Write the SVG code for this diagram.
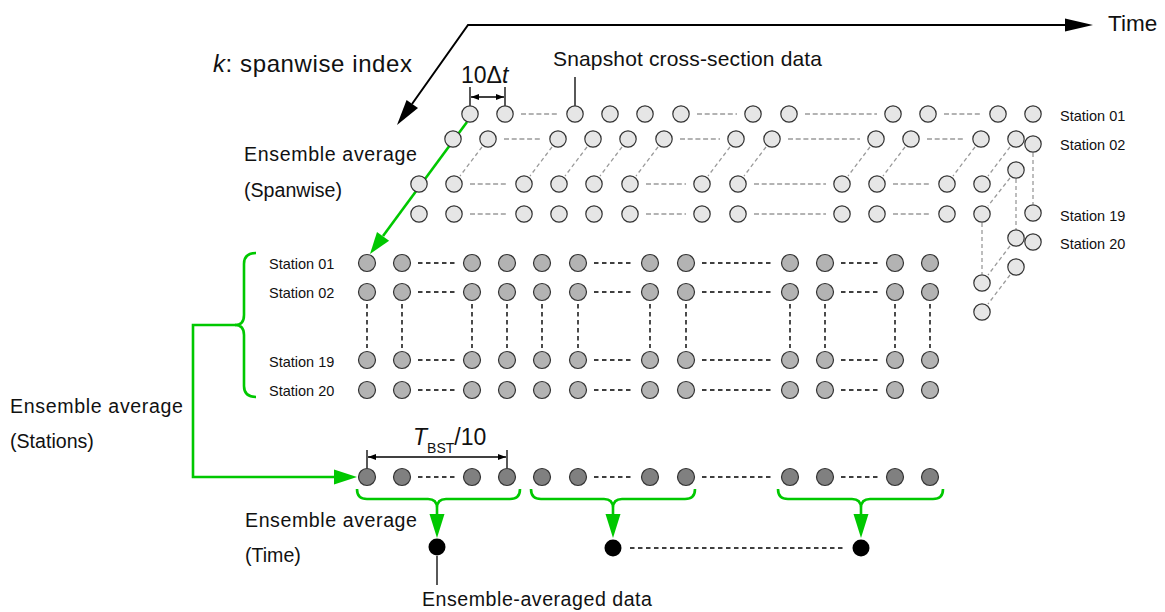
<svg xmlns="http://www.w3.org/2000/svg" width="1165" height="612" viewBox="0 0 1165 612">
<style>
text{font-family:"Liberation Sans",Arial,Helvetica,sans-serif;fill:#111}
.lc{fill:#e6e6e6;stroke:#333;stroke-width:1.2}
.gc{fill:#b3b3b3;stroke:#333;stroke-width:1.2}
.dc{fill:#808080;stroke:#333;stroke-width:1.2}
.bc{fill:#000}
.gd{stroke:#9a9a9a;stroke-width:1.3;stroke-dasharray:5 2.7;fill:none}
.gdd{stroke:#9a9a9a;stroke-width:1.3;stroke-dasharray:4 3;fill:none}
.bd{stroke:#000;stroke-width:1.4;stroke-dasharray:4.5 3.5;fill:none}
.grn{stroke:#00c800;stroke-width:2.6;fill:none}
.gh{fill:#00c800}
.ln{stroke:#000;stroke-width:1.3;fill:none}
.ax{stroke:#000;stroke-width:2;fill:none}
.st{font-size:14.5px}
.lb{font-size:19.6px}
</style>
<defs>
<marker id="sa" markerUnits="userSpaceOnUse" markerWidth="8" markerHeight="6" refX="8" refY="3" orient="auto-start-reverse"><path d="M0,0 L8,3 L0,6 z" fill="#000"/></marker>
</defs>

<g id="connectors">
  <polyline class="ax" points="412,104 468,25 1066,25"/>
  <polygon points="1065,18.5 1093,25 1065,31.5" fill="#000"/>
  <polygon points="397,125 418,108.1 406.6,99.9" fill="#000"/>
  <g class="gd">
    <path d="M521 114H559M697 114H737M805 114H877M944 114H982"/>
    <path d="M504 139H542M680 139H720M788 139H860M927 139H965"/>
    <path d="M470 184H508M646 184H686M754 184H826M893 184H931"/>
    <path d="M470 214H508M646 214H686M754 214H826M893 214H931"/>
  </g>
  <g class="gdd">
    <path d="M482 147L460 176M552 147L530 176M587 147L565 176M622 147L600 176M658 147L636 176M730 147L708 176M766 147L744 176M870 147L848 176M905 147L883 176M975 147L953 176M1010 147L988 176"/>
    <path d="M1010 178L988 206M1010 246L988 275M1010 275L988 304"/>
    <path d="M1033 153V204M1016 179V229M982 223V274"/>
  </g>
  <g class="bd">
    <path d="M418 263H456M594 263H634M702 263H774M841 263H879"/>
    <path d="M418 292H456M594 292H634M702 292H774M841 292H879"/>
    <path d="M418 360H456M594 360H634M702 360H774M841 360H879"/>
    <path d="M418 390H456M594 390H634M702 390H774M841 390H879"/>
    <path d="M367 304V348M402 304V348M472 304V348M507 304V348M542 304V348M578 304V348M650 304V348M686 304V348M790 304V348M825 304V348M895 304V348M930 304V348"/>
    <path d="M418 477H456M594 477H634M702 477H774M841 477H879"/>
    <path d="M630 548H845"/>
  </g>
  <path class="grn" d="M467 122L383 236"/>
  <polygon class="gh" points="370,254 389.1,240.7 377,231.9"/>
  <path class="grn" d="M256 253Q244 253 244 264L244 315Q244 325 235 325Q244 325 244 335L244 386Q244 397 256 397"/>
  <path class="grn" d="M236 325H193V477H336"/>
  <polygon class="gh" points="357,477 334,469.5 334,484.5"/>
  <path class="grn" d="M357 489Q357 499 367 499L428 499Q437 499 437 508Q437 499 446 499L510 499Q520 499 520 489M437 505V516"/>
  <polygon class="gh" points="437,538 429.5,514 444.5,514"/>
  <path class="grn" d="M531 489Q531 499 541 499L604 499Q613 499 613 508Q613 499 622 499L685 499Q695 499 695 489M613 505V516"/>
  <polygon class="gh" points="613,538 605.5,514 620.5,514"/>
  <path class="grn" d="M778 489Q778 499 788 499L852 499Q861 499 861 508Q861 499 870 499L933 499Q943 499 943 489M861 505V516"/>
  <polygon class="gh" points="861,538 853.5,514 868.5,514"/>
  <path class="ln" d="M470 87V106M505 87V106M575 77V106M367 450V468M507 450V468M437 556V585"/>
  <path class="ln" d="M471 97H504" marker-start="url(#sa)" marker-end="url(#sa)"/>
  <path class="ln" d="M368 457H506" marker-start="url(#sa)" marker-end="url(#sa)"/>
</g>

<g id="snapshot-k1">
  <circle class="lc" cx="470" cy="114" r="8.2"/><circle class="lc" cx="505" cy="114" r="8.2"/><circle class="lc" cx="575" cy="114" r="8.2"/><circle class="lc" cx="610" cy="114" r="8.2"/><circle class="lc" cx="645" cy="114" r="8.2"/><circle class="lc" cx="681" cy="114" r="8.2"/><circle class="lc" cx="753" cy="114" r="8.2"/><circle class="lc" cx="789" cy="114" r="8.2"/><circle class="lc" cx="893" cy="114" r="8.2"/><circle class="lc" cx="928" cy="114" r="8.2"/><circle class="lc" cx="998" cy="114" r="8.2"/><circle class="lc" cx="1033" cy="114" r="8.2"/>
</g>
<g id="snapshot-k2">
  <circle class="lc" cx="453" cy="139" r="8.2"/><circle class="lc" cx="488" cy="139" r="8.2"/><circle class="lc" cx="558" cy="139" r="8.2"/><circle class="lc" cx="593" cy="139" r="8.2"/><circle class="lc" cx="628" cy="139" r="8.2"/><circle class="lc" cx="664" cy="139" r="8.2"/><circle class="lc" cx="736" cy="139" r="8.2"/><circle class="lc" cx="772" cy="139" r="8.2"/><circle class="lc" cx="876" cy="139" r="8.2"/><circle class="lc" cx="911" cy="139" r="8.2"/><circle class="lc" cx="981" cy="139" r="8.2"/><circle class="lc" cx="1016" cy="139" r="8.2"/>
</g>
<g id="snapshot-kN-st01">
  <circle class="lc" cx="419" cy="184" r="8.2"/><circle class="lc" cx="454" cy="184" r="8.2"/><circle class="lc" cx="524" cy="184" r="8.2"/><circle class="lc" cx="559" cy="184" r="8.2"/><circle class="lc" cx="594" cy="184" r="8.2"/><circle class="lc" cx="630" cy="184" r="8.2"/><circle class="lc" cx="702" cy="184" r="8.2"/><circle class="lc" cx="738" cy="184" r="8.2"/><circle class="lc" cx="842" cy="184" r="8.2"/><circle class="lc" cx="877" cy="184" r="8.2"/><circle class="lc" cx="947" cy="184" r="8.2"/><circle class="lc" cx="982" cy="184" r="8.2"/>
</g>
<g id="snapshot-kN-st02">
  <circle class="lc" cx="419" cy="214" r="8.2"/><circle class="lc" cx="454" cy="214" r="8.2"/><circle class="lc" cx="524" cy="214" r="8.2"/><circle class="lc" cx="559" cy="214" r="8.2"/><circle class="lc" cx="594" cy="214" r="8.2"/><circle class="lc" cx="630" cy="214" r="8.2"/><circle class="lc" cx="702" cy="214" r="8.2"/><circle class="lc" cx="738" cy="214" r="8.2"/><circle class="lc" cx="842" cy="214" r="8.2"/><circle class="lc" cx="877" cy="214" r="8.2"/><circle class="lc" cx="947" cy="214" r="8.2"/><circle class="lc" cx="982" cy="214" r="8.2"/>
</g>
<g id="snapshot-edge">
  <circle class="lc" cx="1016" cy="170" r="8.2"/><circle class="lc" cx="1016" cy="238" r="8.2"/><circle class="lc" cx="1016" cy="267" r="8.2"/>
  <circle class="lc" cx="982" cy="283" r="8.2"/><circle class="lc" cx="982" cy="312" r="8.2"/>
  <circle class="lc" cx="1033" cy="144" r="8.2"/><circle class="lc" cx="1033" cy="213" r="8.2"/><circle class="lc" cx="1033" cy="242" r="8.2"/>
</g>

<g id="grid-st01">
  <circle class="gc" cx="367" cy="263" r="8.5"/><circle class="gc" cx="402" cy="263" r="8.5"/><circle class="gc" cx="472" cy="263" r="8.5"/><circle class="gc" cx="507" cy="263" r="8.5"/><circle class="gc" cx="542" cy="263" r="8.5"/><circle class="gc" cx="578" cy="263" r="8.5"/><circle class="gc" cx="650" cy="263" r="8.5"/><circle class="gc" cx="686" cy="263" r="8.5"/><circle class="gc" cx="790" cy="263" r="8.5"/><circle class="gc" cx="825" cy="263" r="8.5"/><circle class="gc" cx="895" cy="263" r="8.5"/><circle class="gc" cx="930" cy="263" r="8.5"/>
</g>
<g id="grid-st02">
  <circle class="gc" cx="367" cy="292" r="8.5"/><circle class="gc" cx="402" cy="292" r="8.5"/><circle class="gc" cx="472" cy="292" r="8.5"/><circle class="gc" cx="507" cy="292" r="8.5"/><circle class="gc" cx="542" cy="292" r="8.5"/><circle class="gc" cx="578" cy="292" r="8.5"/><circle class="gc" cx="650" cy="292" r="8.5"/><circle class="gc" cx="686" cy="292" r="8.5"/><circle class="gc" cx="790" cy="292" r="8.5"/><circle class="gc" cx="825" cy="292" r="8.5"/><circle class="gc" cx="895" cy="292" r="8.5"/><circle class="gc" cx="930" cy="292" r="8.5"/>
</g>
<g id="grid-st19">
  <circle class="gc" cx="367" cy="360" r="8.5"/><circle class="gc" cx="402" cy="360" r="8.5"/><circle class="gc" cx="472" cy="360" r="8.5"/><circle class="gc" cx="507" cy="360" r="8.5"/><circle class="gc" cx="542" cy="360" r="8.5"/><circle class="gc" cx="578" cy="360" r="8.5"/><circle class="gc" cx="650" cy="360" r="8.5"/><circle class="gc" cx="686" cy="360" r="8.5"/><circle class="gc" cx="790" cy="360" r="8.5"/><circle class="gc" cx="825" cy="360" r="8.5"/><circle class="gc" cx="895" cy="360" r="8.5"/><circle class="gc" cx="930" cy="360" r="8.5"/>
</g>
<g id="grid-st20">
  <circle class="gc" cx="367" cy="390" r="8.5"/><circle class="gc" cx="402" cy="390" r="8.5"/><circle class="gc" cx="472" cy="390" r="8.5"/><circle class="gc" cx="507" cy="390" r="8.5"/><circle class="gc" cx="542" cy="390" r="8.5"/><circle class="gc" cx="578" cy="390" r="8.5"/><circle class="gc" cx="650" cy="390" r="8.5"/><circle class="gc" cx="686" cy="390" r="8.5"/><circle class="gc" cx="790" cy="390" r="8.5"/><circle class="gc" cx="825" cy="390" r="8.5"/><circle class="gc" cx="895" cy="390" r="8.5"/><circle class="gc" cx="930" cy="390" r="8.5"/>
</g>
<g id="station-avg">
  <circle class="dc" cx="367" cy="477" r="8.5"/><circle class="dc" cx="402" cy="477" r="8.5"/><circle class="dc" cx="472" cy="477" r="8.5"/><circle class="dc" cx="507" cy="477" r="8.5"/><circle class="dc" cx="542" cy="477" r="8.5"/><circle class="dc" cx="578" cy="477" r="8.5"/><circle class="dc" cx="650" cy="477" r="8.5"/><circle class="dc" cx="686" cy="477" r="8.5"/><circle class="dc" cx="790" cy="477" r="8.5"/><circle class="dc" cx="825" cy="477" r="8.5"/><circle class="dc" cx="895" cy="477" r="8.5"/><circle class="dc" cx="930" cy="477" r="8.5"/>
</g>
<g id="time-avg">
  <circle class="bc" cx="437" cy="547" r="8.5"/><circle class="bc" cx="613" cy="548" r="8.5"/><circle class="bc" cx="861" cy="548" r="8.5"/>
</g>

<g id="labels">
  <text x="1108" y="31" font-size="22.5">Time</text>
  <text x="213" y="72" font-size="24" textLength="199" lengthAdjust="spacing"><tspan font-style="italic">k</tspan>: spanwise index</text>
  <text x="553" y="66" font-size="21" textLength="269" lengthAdjust="spacing">Snapshot cross-section data</text>
  <text x="461" y="83" font-size="23">10Δ<tspan font-style="italic">t</tspan></text>
  <text class="lb" x="244" y="161" textLength="173" lengthAdjust="spacing">Ensemble average</text>
  <text class="lb" x="244" y="197">(Spanwise)</text>
  <text class="lb" x="10" y="413" textLength="173" lengthAdjust="spacing">Ensemble average</text>
  <text class="lb" x="10" y="448">(Stations)</text>
  <text class="lb" x="245" y="527" textLength="172" lengthAdjust="spacing">Ensemble average</text>
  <text class="lb" x="245" y="562">(Time)</text>
  <text class="lb" x="422" y="606" textLength="230" lengthAdjust="spacing">Ensemble-averaged data</text>
  <text x="413" y="445" font-size="23"><tspan font-style="italic">T</tspan><tspan font-size="14" dy="8">BST</tspan><tspan dy="-8">/10</tspan></text>
  <text class="st" x="269" y="269">Station 01</text>
  <text class="st" x="269" y="298">Station 02</text>
  <text class="st" x="269" y="367">Station 19</text>
  <text class="st" x="269" y="396">Station 20</text>
  <text class="st" x="1060" y="121">Station 01</text>
  <text class="st" x="1060" y="150">Station 02</text>
  <text class="st" x="1060" y="221">Station 19</text>
  <text class="st" x="1060" y="249">Station 20</text>
</g>
</svg>
